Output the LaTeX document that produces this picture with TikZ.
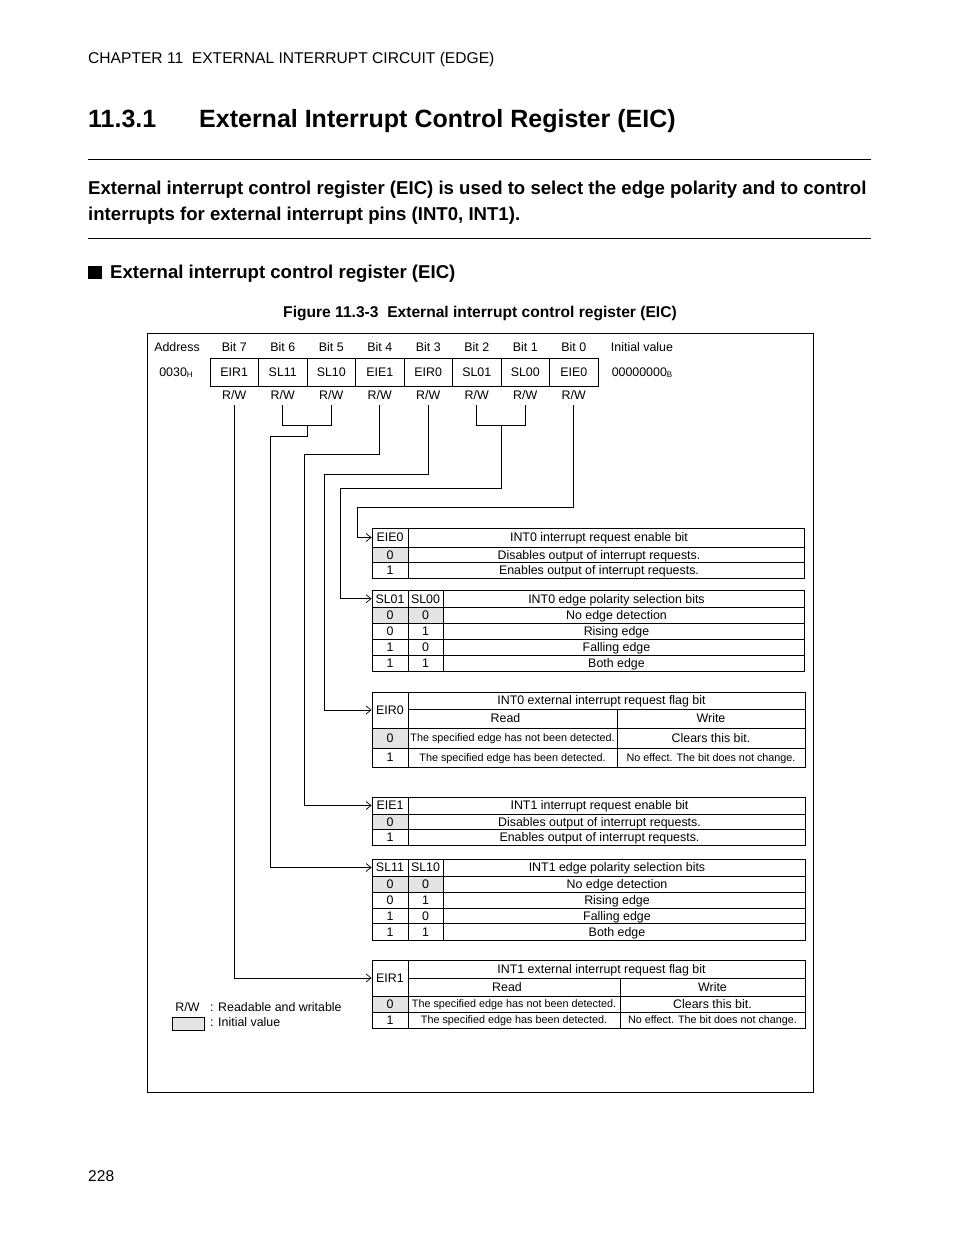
\documentclass[tikz,border=0pt]{standalone}
\usepackage{fontspec}
\setmainfont{Liberation Sans}
\usetikzlibrary{arrows.meta}
\definecolor{cellgray}{RGB}{228,228,228}
\tikzset{
  ft/.style={font=\fontsize{12.4}{14}\selectfont, inner sep=0pt, text height=8.9pt, text depth=0pt},
  fs/.style={font=\fontsize{10.8}{12}\selectfont, inner sep=0pt, text height=7.7pt, text depth=0pt},
  cell/.style={draw, line width=0.8pt, ft},
  regcell/.style={draw, line width=0.8pt, minimum width=48.5pt, minimum height=28pt, ft},
  conn/.style={line width=0.8pt},
  arr/.style={conn, -{Straight Barb[length=5pt,width=8pt,line width=0.7pt]}},
  hdr/.style={font=\fontsize{15.6}{18}\selectfont, inner sep=0pt, text height=11.2pt, text depth=0pt, anchor=west},
  ttl/.style={font=\fontsize{25}{30}\selectfont\bfseries, inner sep=0pt, text height=17.9pt, text depth=0pt, anchor=west},
  para/.style={font=\fontsize{18.6}{22}\selectfont\bfseries, inner sep=0pt, text height=13.3pt, text depth=0pt, anchor=west},
  capt/.style={font=\fontsize{15.6}{18}\selectfont\bfseries, inner sep=0pt, text height=11.2pt, text depth=0pt},
}
\newcommand\tblcell[7][]{\node[cell,#1,minimum width={#4-#2},minimum height={#5-#3}] (#6) at ({(#2+#4)/2},{(#3+#5)/2}) {#7};}
\newcommand\subsc[1]{\raisebox{-1pt}{\fontsize{8}{8}\selectfont #1}}
\newcommand\lft[1]{\kern-14pt #1}
\begin{document}
\begin{tikzpicture}[x=1pt,y=-1pt]
\useasboundingbox (0,0) rectangle (954,1235);
\fill[white] (0,0) rectangle (954,1235);

% page header and titles
\node[hdr] (chap) at (88,57.5) {CHAPTER 11\ \ EXTERNAL INTERRUPT CIRCUIT (EDGE)};
\node[ttl] (secnum) at (88,119) {11.3.1};
\node[ttl] (sectitle) at (199,119) {External Interrupt Control Register (EIC)};
\draw[line width=0.8pt] (88,159) -- (871,159);
\node[para] (p1) at (88,188) {External interrupt control register (EIC) is used to select the edge polarity and to control};
\node[para] (p2) at (88,214) {interrupts for external interrupt pins (INT0, INT1).};
\draw[line width=0.8pt] (88,238) -- (871,238);
\fill (88,265.5) rectangle (101.5,279);
\node[para] (subhead) at (110,272) {External interrupt control register (EIC)};
\node[capt] (caption) at (480,311.5) {Figure 11.3-3\ \ External interrupt control register (EIC)};

% frame
\draw[line width=0.8pt] (147,333) rectangle (813,1092);

% register
\node[ft] (addr) at (177,347.5) {Address};
\node[ft] (addrv) at (176,372) {0030\subsc{H}};
\node[ft] (initl) at (642,347.5) {Initial value};
\node[ft] (initv) at (642,372) {00000000\subsc{B}};

\node[ft] (bit7) at (234.25,347.5) {Bit 7};
\node[ft] (bit6) at (282.75,347.5) {Bit 6};
\node[ft] (bit5) at (331.25,347.5) {Bit 5};
\node[ft] (bit4) at (379.75,347.5) {Bit 4};
\node[ft] (bit3) at (428.25,347.5) {Bit 3};
\node[ft] (bit2) at (476.75,347.5) {Bit 2};
\node[ft] (bit1) at (525.25,347.5) {Bit 1};
\node[ft] (bit0) at (573.75,347.5) {Bit 0};

\node[regcell] (r7) at (234.25,372) {EIR1};
\node[regcell] (r6) at (282.75,372) {SL11};
\node[regcell] (r5) at (331.25,372) {SL10};
\node[regcell] (r4) at (379.75,372) {EIE1};
\node[regcell] (r3) at (428.25,372) {EIR0};
\node[regcell] (r2) at (476.75,372) {SL01};
\node[regcell] (r1) at (525.25,372) {SL00};
\node[regcell] (r0) at (573.75,372) {EIE0};

\node[ft] (rw7) at (234.25,395.5) {R/W};
\node[ft] (rw6) at (282.75,395.5) {R/W};
\node[ft] (rw5) at (331.25,395.5) {R/W};
\node[ft] (rw4) at (379.75,395.5) {R/W};
\node[ft] (rw3) at (428.25,395.5) {R/W};
\node[ft] (rw2) at (476.75,395.5) {R/W};
\node[ft] (rw1) at (525.25,395.5) {R/W};
\node[ft] (rw0) at (573.75,395.5) {R/W};

% table EIE0
\tblcell{372}{528}{408}{547}{eie0h}{EIE0}
\tblcell{408}{528}{804}{547}{eie0t}{\lft{INT0 interrupt request enable bit}}
\tblcell[fill=cellgray]{372}{547}{408}{562.5}{eie0a}{0}
\tblcell{408}{547}{804}{562.5}{eie0b}{\lft{Disables output of interrupt requests.}}
\tblcell{372}{562.5}{408}{578}{eie0c}{1}
\tblcell{408}{562.5}{804}{578}{eie0d}{\lft{Enables output of interrupt requests.}}

% table SL01/SL00
\tblcell{372}{590}{408}{607.5}{sl01h}{SL01}
\tblcell{408}{590}{443}{607.5}{sl00h}{SL00}
\tblcell{443}{590}{804}{607.5}{sl0t}{\lft{INT0 edge polarity selection bits}}
\tblcell[fill=cellgray]{372}{607.5}{408}{623.5}{sla1}{0}
\tblcell[fill=cellgray]{408}{607.5}{443}{623.5}{slb1}{0}
\tblcell{443}{607.5}{804}{623.5}{slc1}{\lft{No edge detection}}
\tblcell{372}{623.5}{408}{639.5}{sla2}{0}
\tblcell{408}{623.5}{443}{639.5}{slb2}{1}
\tblcell{443}{623.5}{804}{639.5}{slc2}{\lft{Rising edge}}
\tblcell{372}{639.5}{408}{655}{sla3}{1}
\tblcell{408}{639.5}{443}{655}{slb3}{0}
\tblcell{443}{639.5}{804}{655}{slc3}{\lft{Falling edge}}
\tblcell{372}{655}{408}{671}{sla4}{1}
\tblcell{408}{655}{443}{671}{slb4}{1}
\tblcell{443}{655}{804}{671}{slc4}{\lft{Both edge}}

% table EIR0
\tblcell{372}{692}{408}{728}{eir0h}{EIR0}
\tblcell{408}{692}{805}{709}{eir0t}{\kern-10pt INT0 external interrupt request flag bit}
\tblcell{408}{709}{617}{728}{eir0r}{\lft{Read}}
\tblcell{617}{709}{805}{728}{eir0w}{Write}
\tblcell[fill=cellgray]{372}{728}{408}{748}{eir0a}{0}
\tblcell[fs]{408}{728}{617}{748}{eir0b}{The specified edge has not been detected.}
\tblcell{617}{728}{805}{748}{eir0c}{Clears this bit.}
\tblcell{372}{748}{408}{767}{eir0d}{1}
\tblcell[fs]{408}{748}{617}{767}{eir0e}{The specified edge has been detected.}
\tblcell[fs]{617}{748}{805}{767}{eir0f}{No effect. The bit does not change.}

% table EIE1
\tblcell{372}{797}{408}{814}{eie1h}{EIE1}
\tblcell{408}{797}{805}{814}{eie1t}{\lft{INT1 interrupt request enable bit}}
\tblcell[fill=cellgray]{372}{814}{408}{829.5}{eie1a}{0}
\tblcell{408}{814}{805}{829.5}{eie1b}{\lft{Disables output of interrupt requests.}}
\tblcell{372}{829.5}{408}{845}{eie1c}{1}
\tblcell{408}{829.5}{805}{845}{eie1d}{\lft{Enables output of interrupt requests.}}

% table SL11/SL10
\tblcell{372}{859}{408}{876}{sl11h}{SL11}
\tblcell{408}{859}{443}{876}{sl10h}{SL10}
\tblcell{443}{859}{805}{876}{sl1t}{\lft{INT1 edge polarity selection bits}}
\tblcell[fill=cellgray]{372}{876}{408}{892}{sma1}{0}
\tblcell[fill=cellgray]{408}{876}{443}{892}{smb1}{0}
\tblcell{443}{876}{805}{892}{smc1}{\lft{No edge detection}}
\tblcell{372}{892}{408}{908}{sma2}{0}
\tblcell{408}{892}{443}{908}{smb2}{1}
\tblcell{443}{892}{805}{908}{smc2}{\lft{Rising edge}}
\tblcell{372}{908}{408}{923.5}{sma3}{1}
\tblcell{408}{908}{443}{923.5}{smb3}{0}
\tblcell{443}{908}{805}{923.5}{smc3}{\lft{Falling edge}}
\tblcell{372}{923.5}{408}{940}{sma4}{1}
\tblcell{408}{923.5}{443}{940}{smb4}{1}
\tblcell{443}{923.5}{805}{940}{smc4}{\lft{Both edge}}

% table EIR1
\tblcell{372}{960}{408}{996}{eir1h}{EIR1}
\tblcell{408}{960}{805}{978}{eir1t}{\kern-10pt INT1 external interrupt request flag bit}
\tblcell{408}{978}{620}{996}{eir1r}{\lft{Read}}
\tblcell{620}{978}{805}{996}{eir1w}{Write}
\tblcell[fill=cellgray]{372}{996}{408}{1012}{eir1a}{0}
\tblcell[fs]{408}{996}{620}{1012}{eir1b}{The specified edge has not been detected.}
\tblcell{620}{996}{805}{1012}{eir1c}{Clears this bit.}
\tblcell{372}{1012}{408}{1028}{eir1d}{1}
\tblcell[fs]{408}{1012}{620}{1028}{eir1e}{The specified edge has been detected.}
\tblcell[fs]{620}{1012}{805}{1028}{eir1f}{No effect. The bit does not change.}

% connectors
\coordinate (b65) at (307,425);
\coordinate (b21) at (501,425);
\draw[arr] ([yshift=-5pt]rw7.south) |- (eir1h.west);
\draw[conn] ([yshift=-5pt]rw6.south) -- (rw6 |- b65) -- (rw5 |- b65) -- ([yshift=-5pt]rw5.south);
\draw[arr] (b65) |- (270,436) |- (sl11h.west);
\draw[arr] ([yshift=-5pt]rw4.south) |- (304,454) |- (eie1h.west);
\draw[arr] ([yshift=-5pt]rw3.south) |- (324,474) |- (eir0h.west);
\draw[conn] ([yshift=-5pt]rw2.south) -- (rw2 |- b21) -- (rw1 |- b21) -- ([yshift=-5pt]rw1.south);
\draw[arr] (b21) |- (340,488) |- (sl01h.west);
\draw[arr] ([yshift=-5pt]rw0.south) |- (357,507) |- (eie0h.west);

% legend
\node[ft] (lgrw) at (187.5,1007.5) {R/W};
\node[ft, anchor=west] (lgrwt) at (210,1007.5) {: Readable and writable};
\node[draw, line width=0.6pt, fill=cellgray, minimum width=32pt, minimum height=13pt, inner sep=0pt] (lgbox) at (188,1023.5) {};
\node[ft, anchor=west] (lgbt) at (210,1022.5) {: Initial value};

% page number
\node[hdr] (pageno) at (88,1175.5) {228};
\end{tikzpicture}
\end{document}
